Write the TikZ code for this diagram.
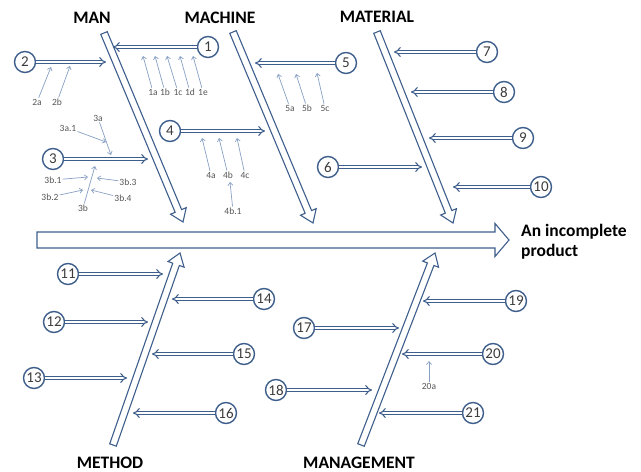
\documentclass[tikz,border=0pt]{standalone}
\usepackage{fontspec}
\setmainfont{Carlito}
\usetikzlibrary{calc,arrows.meta}

% hollow block arrow: tail, tip, half shaft, half head, head length
\newcommand{\blockarrow}[5]{%
    \draw[bone] ($(#1)!#3!90:(#2)$)
        -- ($(#2)!#5!(#1)!#3!90:(#2)$)
        -- ($(#2)!#5!(#1)!#4!90:(#2)$)
        -- (#2)
        -- ($(#2)!#5!(#1)!#4!-90:(#2)$)
        -- ($(#2)!#5!(#1)!#3!-90:(#2)$)
        -- ($(#1)!#3!-90:(#2)$) -- cycle;}

\begin{document}
\begin{tikzpicture}[x=1pt,y=-1pt]

    % Colours of the chart
    \definecolor{bonecol}{RGB}{62,94,140}
    \definecolor{numcol}{RGB}{60,60,60}
    \definecolor{subcol}{RGB}{135,160,195}
    \definecolor{subtxt}{RGB}{85,85,85}

    % Common styles
    \tikzset{
        bone/.style={draw=bonecol, line width=1.1pt, fill=white},
        branch/.style={draw=bonecol, line width=1.1pt, double=white,
            double distance=2.2pt, -{Implies}},
        cause/.style={circle, draw=bonecol, line width=1.4pt, fill=white,
            inner sep=0pt, minimum size=21pt, text=numcol,
            font=\fontsize{15}{15}\selectfont},
        heading/.style={font=\fontsize{17.5}{20}\selectfont\bfseries},
        sub/.style={text=subtxt, inner sep=1pt, font=\fontsize{9.5}{10}\selectfont},
        subarrow/.style={draw=subcol, line width=0.7pt,
            -{Straight Barb[length=3pt,width=5pt]}}
    }

    \useasboundingbox (0,0) rectangle (641,472);

    % ===================== Bones =====================
    \coordinate (spineTail) at (37,240);
    \coordinate (spineTip) at (509,240);
    \coordinate (manTop) at (104,33);
    \coordinate (manTip) at (183,222);
    \coordinate (machineTop) at (233,32);
    \coordinate (machineTip) at (313,223);
    \coordinate (materialTop) at (377,32);
    \coordinate (materialTip) at (453,223);
    \coordinate (methodEnd) at (113,445);
    \coordinate (methodTip) at (180,253);
    \coordinate (managementEnd) at (361,445);
    \coordinate (managementTip) at (435,253);

    \blockarrow{spineTail}{spineTip}{8pt}{16.5pt}{14pt}
    \blockarrow{manTop}{manTip}{3.5pt}{8.5pt}{12pt}
    \blockarrow{machineTop}{machineTip}{3.5pt}{8.5pt}{12pt}
    \blockarrow{materialTop}{materialTip}{3.5pt}{8.5pt}{12pt}
    \blockarrow{methodEnd}{methodTip}{3.5pt}{8.5pt}{12pt}
    \blockarrow{managementEnd}{managementTip}{3.5pt}{8.5pt}{12pt}

    \node[heading] (man) at (92,18) {MAN};
    \node[heading] (machine) at (220,18) {MACHINE};
    \node[heading] (material) at (377,17) {MATERIAL};
    \node[heading] (method) at (110,463) {METHOD};
    \node[heading] (management) at (359,463) {MANAGEMENT};
    \node[heading, align=left, anchor=west, inner sep=0pt] (product) at (521,242)
        {An incomplete\\product};

    % ===================== Causes =====================
    \node[cause] (c1) at (208,47) {1};    \coordinate (t1) at (113,47);
    \node[cause] (c2) at (25,62) {2};     \coordinate (t2) at (106,62);
    \node[cause] (c3) at (53,159) {3};    \coordinate (t3) at (148,159);
    \node[cause] (c4) at (170,131) {4};   \coordinate (t4) at (265,131);
    \node[cause] (c5) at (346,63) {5};    \coordinate (t5) at (255,63);
    \node[cause] (c6) at (328,167) {6};   \coordinate (t6) at (422,167);
    \node[cause] (c7) at (487,52) {7};    \coordinate (t7) at (394,52);
    \node[cause] (c8) at (504,92) {8};    \coordinate (t8) at (411,92);
    \node[cause] (c9) at (523,138) {9};   \coordinate (t9) at (429,138);
    \node[cause] (c10) at (541,187) {10}; \coordinate (t10) at (453,187);
    \node[cause] (c11) at (68,274) {11};  \coordinate (t11) at (163,274);
    \node[cause] (c12) at (54,322) {12};  \coordinate (t12) at (148,322);
    \node[cause] (c13) at (34,378) {13};  \coordinate (t13) at (127,378);
    \node[cause] (c14) at (264,299) {14}; \coordinate (t14) at (172,299);
    \node[cause] (c15) at (244,354) {15}; \coordinate (t15) at (152,354);
    \node[cause] (c16) at (226,413) {16}; \coordinate (t16) at (133,413);
    \node[cause] (c17) at (304,328) {17}; \coordinate (t17) at (399,328);
    \node[cause] (c18) at (276,390) {18}; \coordinate (t18) at (372,390);
    \node[cause] (c19) at (516,301) {19}; \coordinate (t19) at (423,301);
    \node[cause] (c20) at (493,354) {20}; \coordinate (t20) at (402,354);
    \node[cause] (c21) at (473,413) {21}; \coordinate (t21) at (379,413);

    \draw[branch] (c1) -- (t1);   \draw[branch] (c2) -- (t2);
    \draw[branch] (c3) -- (t3);   \draw[branch] (c4) -- (t4);
    \draw[branch] (c5) -- (t5);   \draw[branch] (c6) -- (t6);
    \draw[branch] (c7) -- (t7);   \draw[branch] (c8) -- (t8);
    \draw[branch] (c9) -- (t9);   \draw[branch] (c10) -- (t10);
    \draw[branch] (c11) -- (t11); \draw[branch] (c12) -- (t12);
    \draw[branch] (c13) -- (t13); \draw[branch] (c14) -- (t14);
    \draw[branch] (c15) -- (t15); \draw[branch] (c16) -- (t16);
    \draw[branch] (c17) -- (t17); \draw[branch] (c18) -- (t18);
    \draw[branch] (c19) -- (t19); \draw[branch] (c20) -- (t20);
    \draw[branch] (c21) -- (t21);

    % ===================== Sub-causes =====================
    \node[sub] (s1a) at (153,92) {1a};   \coordinate (p1a) at (143,56);
    \node[sub] (s1b) at (165,92) {1b};   \coordinate (p1b) at (155,56);
    \node[sub] (s1c) at (178,92) {1c};   \coordinate (p1c) at (167,56);
    \node[sub] (s1d) at (190,92) {1d};   \coordinate (p1d) at (180,56);
    \node[sub] (s1e) at (203,92) {1e};   \coordinate (p1e) at (193,56);
    \node[sub] (s2a) at (37,102) {2a};   \coordinate (p2a) at (51,67);
    \node[sub] (s2b) at (57,102) {2b};   \coordinate (p2b) at (70,66);
    \node[sub] (s3a) at (98,118) {3a};   \coordinate (p3a) at (111,155);
    \node[sub] (s3a1) at (68,128) {3a.1}; \coordinate (p3a1) at (106,142);
    \node[sub] (s3b) at (83,208) {3b};   \coordinate (p3b) at (95,166);
    \node[sub] (s3b1) at (53,180) {3b.1}; \coordinate (p3b1) at (88,177);
    \node[sub] (s3b2) at (50,197) {3b.2}; \coordinate (p3b2) at (83,190);
    \node[sub] (s3b3) at (128,182) {3b.3}; \coordinate (p3b3) at (97,178);
    \node[sub] (s3b4) at (123,198) {3b.4}; \coordinate (p3b4) at (91,190);
    \node[sub] (s4a) at (211,175) {4a};  \coordinate (p4a) at (202,138);
    \node[sub] (s4b) at (228,175) {4b};  \coordinate (p4b) at (219,138);
    \node[sub] (s4c) at (245,175) {4c};  \coordinate (p4c) at (237,138);
    \node[sub] (s4b1) at (233,211) {4b.1}; \coordinate (p4b1) at (230,182);
    \node[sub] (s5a) at (290,108) {5a};  \coordinate (p5a) at (278,74);
    \node[sub] (s5b) at (307,108) {5b};  \coordinate (p5b) at (296,74);
    \node[sub] (s5c) at (325,108) {5c};  \coordinate (p5c) at (317,73);
    \node[sub] (s20a) at (429,386) {20a}; \coordinate (p20a) at (429,361);

    \draw[subarrow] (s1a) -- (p1a);   \draw[subarrow] (s1b) -- (p1b);
    \draw[subarrow] (s1c) -- (p1c);   \draw[subarrow] (s1d) -- (p1d);
    \draw[subarrow] (s1e) -- (p1e);
    \draw[subarrow] (s2a) -- (p2a);   \draw[subarrow] (s2b) -- (p2b);
    \draw[subarrow] (s3a) -- (p3a);   \draw[subarrow] (s3a1) -- (p3a1);
    \draw[subarrow] (s3b) -- (p3b);
    \draw[subarrow] (s3b1) -- (p3b1); \draw[subarrow] (s3b2) -- (p3b2);
    \draw[subarrow] (s3b3) -- (p3b3); \draw[subarrow] (s3b4) -- (p3b4);
    \draw[subarrow] (s4a) -- (p4a);   \draw[subarrow] (s4b) -- (p4b);
    \draw[subarrow] (s4c) -- (p4c);   \draw[subarrow] (s4b1) -- (p4b1);
    \draw[subarrow] (s5a) -- (p5a);   \draw[subarrow] (s5b) -- (p5b);
    \draw[subarrow] (s5c) -- (p5c);
    \draw[subarrow] (s20a) -- (p20a);

\end{tikzpicture}
\end{document}
